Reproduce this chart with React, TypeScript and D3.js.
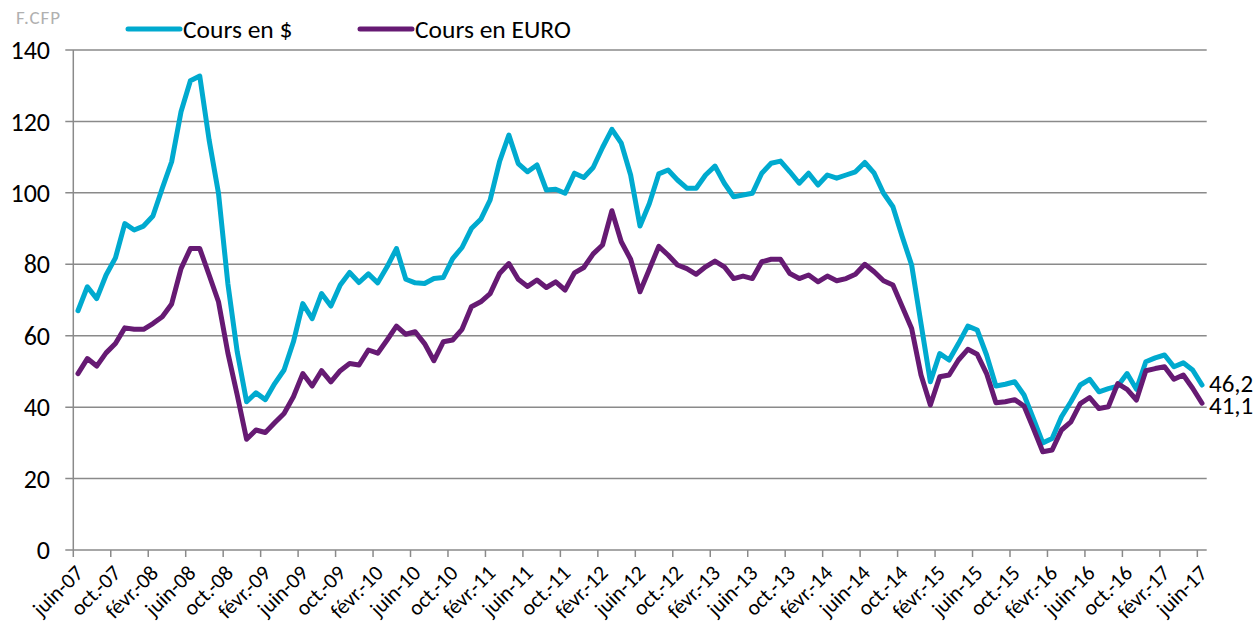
import React from "react";
import * as d3 from "d3";

const usdValues: number[] = [
  67.0, 73.7, 70.4, 77.0, 81.8, 91.4, 89.6, 90.7, 93.5, 101.3, 108.7, 122.7,
  131.4, 132.7, 114.8, 99.9, 74.6, 55.5, 41.5, 44.0, 42.1, 46.6, 50.4, 58.3,
  69.0, 64.8, 71.8, 68.3, 74.2, 77.7, 74.9, 77.3, 74.8, 79.3, 84.4, 75.8,
  74.8, 74.6, 76.0, 76.3, 81.6, 84.7, 90.0, 92.6, 98.0, 108.7, 116.2, 108.2,
  105.9, 107.8, 100.8, 101.0, 99.9, 105.5, 104.3, 107.1, 112.7, 117.8, 113.9, 105.0,
  90.7, 97.0, 105.3, 106.4, 103.6, 101.3, 101.3, 105.0, 107.5, 102.7, 98.9, 99.4,
  99.9, 105.5, 108.3, 108.9, 105.9, 102.7, 105.5, 102.2, 105.0, 104.1, 105.0, 105.9,
  108.5, 105.5, 99.9, 96.1, 87.7, 79.8, 63.4, 47.1, 55.0, 53.2, 57.8, 62.7,
  61.6, 54.6, 45.9, 46.4, 47.1, 43.4, 36.8, 30.0, 31.2, 37.3, 41.5, 46.2,
  47.8, 44.3, 45.2, 45.9, 49.4, 45.0, 52.7, 53.8, 54.6, 51.3, 52.4, 50.4,
  46.2,
];

const euroValues: number[] = [
  49.4, 53.6, 51.5, 55.2, 57.8, 62.2, 61.8, 61.8, 63.4, 65.3, 68.9, 78.8,
  84.4, 84.4, 77.0, 69.5, 55.2, 43.4, 31.0, 33.6, 32.9, 35.6, 38.2, 42.9,
  49.4, 45.9, 50.2, 47.1, 50.2, 52.2, 51.8, 56.0, 55.1, 58.8, 62.7, 60.4,
  61.1, 57.8, 53.0, 58.3, 58.8, 61.8, 68.1, 69.5, 71.8, 77.4, 80.2, 75.8,
  73.8, 75.6, 73.5, 75.1, 72.8, 77.6, 79.1, 82.9, 85.4, 95.0, 86.3, 81.4,
  72.3, 78.6, 85.0, 82.6, 79.8, 78.8, 77.2, 79.3, 80.9, 79.3, 76.0, 76.7,
  76.0, 80.7, 81.4, 81.4, 77.4, 76.0, 77.0, 75.1, 76.7, 75.4, 76.0, 77.2,
  80.0, 77.9, 75.4, 74.2, 68.1, 62.0, 49.0, 40.6, 48.5, 49.0, 53.2, 56.2,
  54.8, 49.4, 41.2, 41.5, 42.1, 40.3, 34.0, 27.5, 28.0, 33.6, 35.9, 41.0,
  42.7, 39.6, 40.1, 46.6, 45.0, 42.0, 50.2, 50.8, 51.3, 47.8, 49.0, 45.3,
  41.1,
];

const tickLabels: string[] = [
  "juin-07", "oct.-07", "févr.-08", "juin-08", "oct.-08", "févr.-09",
  "juin-09", "oct.-09", "févr.-10", "juin-10", "oct.-10", "févr.-11",
  "juin-11", "oct.-11", "févr.-12", "juin-12", "oct.-12", "févr.-13",
  "juin-13", "oct.-13", "févr.-14", "juin-14", "oct.-14", "févr.-15",
  "juin-15", "oct.-15", "févr.-16", "juin-16", "oct.-16", "févr.-17",
  "juin-17",
];

const yTicks: number[] = [0, 20, 40, 60, 80, 100, 120, 140];
const endLabels: string[] = ["46,2", "41,1"];
const seriesNames: string[] = ["Cours en $", "Cours en EURO"];
const unitLabel = "F.CFP";

const COLORS = ["#00AACF", "#661A73"];
const FONT = "Carlito, Calibri, Lato, 'Open Sans', sans-serif";

export default function App() {
  const W = 1259;
  const H = 625;
  const left = 73.3;
  const right = 1206.7;
  const n = usdValues.length;
  const x = d3.scaleLinear().domain([0, n]).range([left, right]);
  const y = d3.scaleLinear().domain([0, 140]).range([550, 50]);
  const line = d3
    .line<number>()
    .x((_, i) => x(i + 0.5))
    .y((d) => y(d));
  const series = [usdValues, euroValues];
  const gridColor = "#8a8a8a";

  return (
    <svg
      width={W}
      height={H}
      style={{ position: "absolute", left: 0, top: 0, background: "#fff" }}
      fontFamily={FONT}
    >
      {yTicks.map((t) => (
        <g key={"g" + t}>
          <line
            x1={left - 8}
            x2={right}
            y1={y(t)}
            y2={y(t)}
            stroke={gridColor}
            strokeWidth={1.5}
          />
          <text
            x={50}
            y={y(t)}
            dy="0.35em"
            textAnchor="end"
            fontSize={26}
            fill="#000"
          >
            {t}
          </text>
        </g>
      ))}
      <line x1={left} x2={left} y1={y(140)} y2={y(0)} stroke={gridColor} strokeWidth={1.5} />
      {tickLabels.map((lab, k) => {
        const tx = x(k * 4);
        return (
          <g key={"x" + k}>
            <line x1={tx} x2={tx} y1={y(0)} y2={y(0) + 7} stroke={gridColor} strokeWidth={1.5} />
            <text
              transform={`translate(${tx + 6},${569}) rotate(-45)`}
              textAnchor="end"
              dy="0.35em"
              fontSize={21.5}
              fill="#000"
            >
              {lab}
            </text>
          </g>
        );
      })}
      {series.map((s, si) => (
        <path
          key={"s" + si}
          d={line(s) || ""}
          fill="none"
          stroke={COLORS[si]}
          strokeWidth={5}
          strokeLinejoin="round"
          strokeLinecap="round"
        />
      ))}
      {series.map((s, si) => (
        <text
          key={"e" + si}
          x={x(n - 0.5) + 7}
          y={y(s[s.length - 1]) + (si === 0 ? -2 : 2)}
          dy="0.35em"
          fontSize={25}
          fill="#000"
        >
          {endLabels[si]}
        </text>
      ))}
      <text x={16} y={24} fontSize={19} letterSpacing={1} fill="#b0b0b0">
        {unitLabel}
      </text>
      {seriesNames.map((name, si) => {
        const lx = si === 0 ? 128 : 360;
        return (
          <g key={"l" + si}>
            <line
              x1={lx}
              x2={lx + 52}
              y1={29}
              y2={29}
              stroke={COLORS[si]}
              strokeWidth={5}
              strokeLinecap="round"
            />
            <text x={lx + 55} y={29} dy="0.35em" fontSize={25.5} fill="#000">
              {name}
            </text>
          </g>
        );
      })}
    </svg>
  );
}
